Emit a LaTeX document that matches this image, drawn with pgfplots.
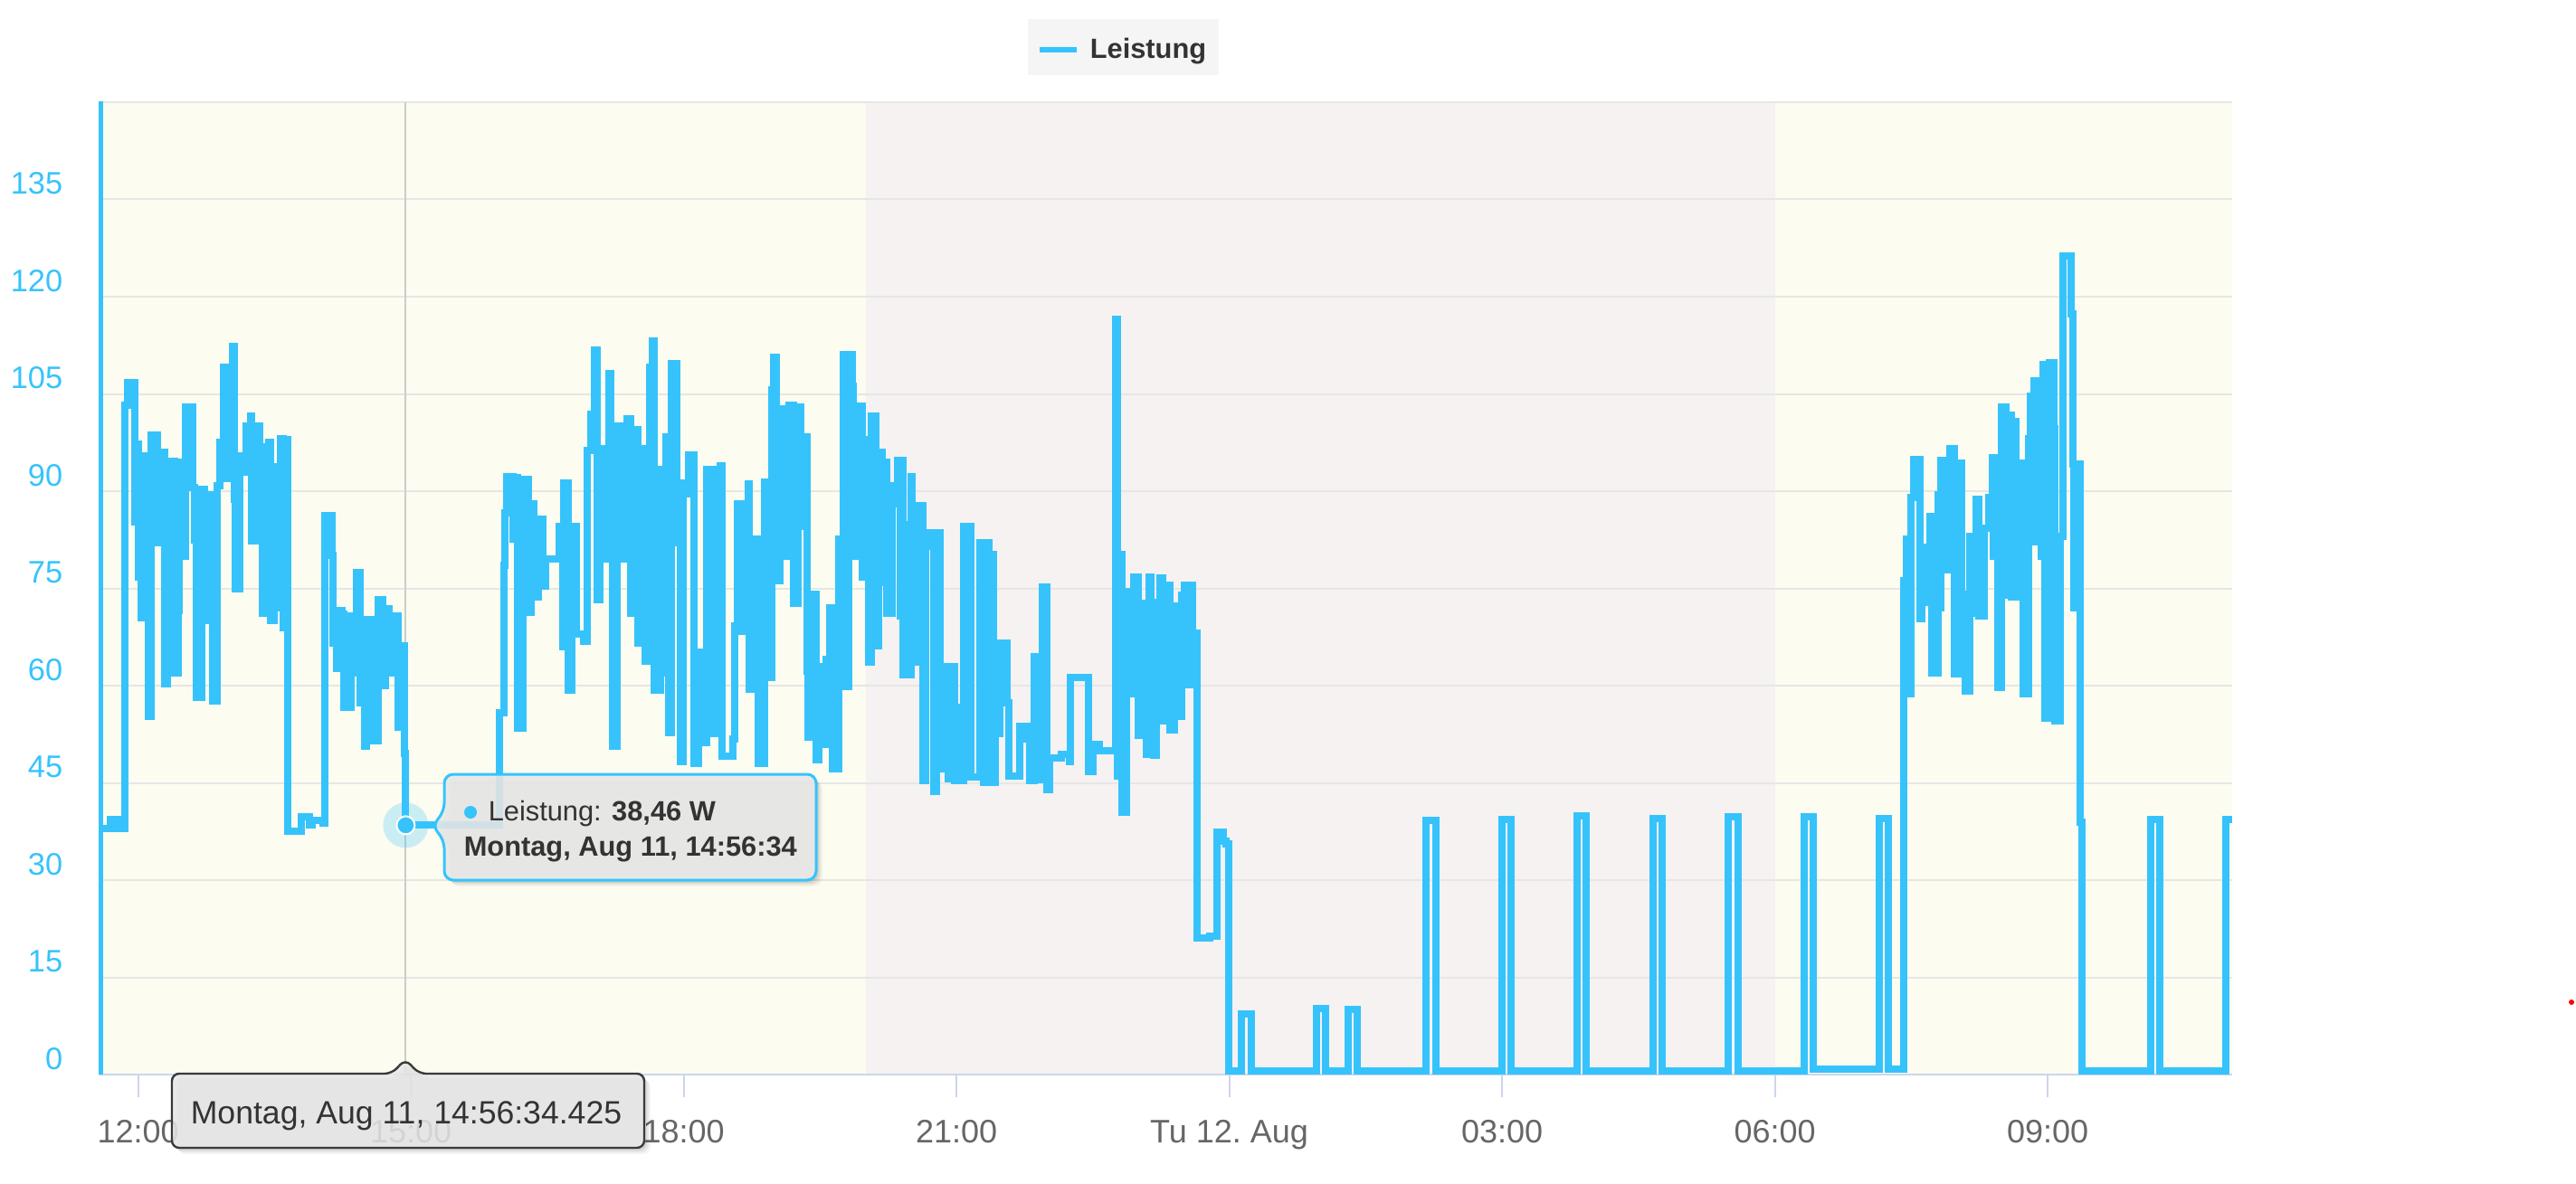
\documentclass[border=0pt]{standalone}
\usepackage{pgfplots}
\pgfplotsset{compat=1.18}
\usepackage{fontspec}
\setmainfont{Liberation Sans}
\definecolor{series}{HTML}{36C3FC}
\definecolor{ylab}{HTML}{36C3FC}
\definecolor{xlab}{HTML}{666666}
\definecolor{dayband}{HTML}{FCFCF0}
\definecolor{nightband}{HTML}{F5F2F1}
\definecolor{gridc}{HTML}{E6E6E6}
\definecolor{axisc}{HTML}{CCD6EB}
\definecolor{txt}{HTML}{333333}
\definecolor{legbg}{HTML}{F5F5F5}
\definecolor{tipfill}{HTML}{E9E9E9}
\definecolor{crossc}{HTML}{CCCCCC}
\definecolor{tipborder2}{HTML}{3A3A3A}

\pgfplotstableread{
h v
11.576 0
11.576 150.5
11.576 38.0
11.692 39.4
11.775 38.0
11.858 103.2
11.882 106.7
11.964 85.2
11.974 97.3
12.007 76.7
12.031 70.5
12.057 95.4
12.106 80.0
12.113 55.2
12.146 98.7
12.213 82.0
12.240 93.0
12.266 96.0
12.290 60.3
12.322 62.0
12.365 94.6
12.399 62.0
12.439 71.6
12.449 94.4
12.489 80.0
12.521 103.0
12.604 90.6
12.621 82.5
12.638 58.2
12.703 90.3
12.730 70.0
12.777 89.5
12.820 57.6
12.870 90.9
12.903 97.5
12.936 109.1
12.976 92.0
12.996 105.0
13.036 112.3
13.062 88.7
13.069 75.0
13.118 95.5
13.151 93.0
13.185 100.0
13.235 101.6
13.251 82.3
13.307 100.0
13.334 86.3
13.350 96.8
13.367 71.2
13.434 97.5
13.460 70.0
13.500 93.8
13.539 72.0
13.566 98.1
13.599 68.9
13.633 98.0
13.649 37.5
13.798 39.7
13.882 38.5
13.914 39.2
14.031 38.8
14.057 86.3
14.130 80.1
14.146 66.5
14.180 62.7
14.196 71.6
14.246 71.0
14.263 56.6
14.345 70.8
14.369 61.9
14.405 77.5
14.439 57.4
14.479 66.0
14.495 50.7
14.511 70.2
14.544 51.5
14.568 70.2
14.611 51.5
14.644 73.2
14.693 60.0
14.720 71.8
14.760 69.2
14.793 62.0
14.843 70.8
14.860 53.6
14.912 66.2
14.932 49.6
14.943 38.46
15.977 55.8
16.021 78.6
16.037 86.6
16.054 92.3
16.120 82.6
16.143 92.1
16.170 53.4
16.236 91.8
16.296 71.3
16.325 88.0
16.352 73.7
16.405 85.7
16.452 75.4
16.485 79.6
16.634 84.6
16.668 66.0
16.684 91.2
16.727 59.3
16.767 84.5
16.817 67.9
16.900 66.8
16.942 96.3
16.982 101.9
17.016 111.8
17.049 73.2
17.076 96.5
17.115 79.6
17.181 108.1
17.201 82.6
17.215 50.7
17.265 100.0
17.314 79.6
17.347 97.6
17.374 101.1
17.414 71.1
17.464 99.5
17.497 66.5
17.546 96.5
17.579 63.8
17.629 109.1
17.656 113.1
17.679 59.3
17.745 93.3
17.778 62.0
17.805 98.4
17.838 52.8
17.862 109.7
17.927 90.1
17.944 82.1
17.961 48.3
17.994 91.2
18.027 89.6
18.054 95.6
18.110 48.0
18.160 65.2
18.193 53.6
18.210 51.2
18.250 93.3
18.325 52.6
18.402 93.9
18.425 49.1
18.541 51.8
18.558 69.2
18.591 88.0
18.641 68.4
18.691 70.3
18.707 91.1
18.723 59.5
18.790 82.6
18.823 48.0
18.890 91.4
18.939 61.2
18.972 105.6
18.989 110.6
19.022 76.2
19.056 102.7
19.089 79.9
19.155 103.3
19.205 72.7
19.255 103.0
19.288 84.5
19.330 98.4
19.354 62.2
19.370 52.0
19.404 74.1
19.454 48.5
19.487 63.0
19.529 51.0
19.553 60.1
19.569 64.1
19.603 72.0
19.636 47.2
19.703 82.6
19.752 111.1
19.785 59.8
19.818 111.1
19.852 106.2
19.868 79.9
19.885 89.7
19.917 103.1
19.967 76.7
20.007 98.0
20.034 63.6
20.061 101.6
20.116 66.2
20.140 96.0
20.183 75.9
20.206 94.5
20.233 71.1
20.293 90.9
20.332 88.0
20.349 94.8
20.382 70.8
20.399 94.8
20.415 61.7
20.439 84.8
20.492 61.7
20.499 92.2
20.514 63.6
20.571 69.7
20.581 87.8
20.631 45.3
20.658 81.5
20.698 83.6
20.747 43.7
20.780 83.6
20.823 47.2
20.880 63.0
20.912 45.6
20.946 63.0
20.979 45.3
21.012 56.6
21.062 45.3
21.079 84.5
21.161 45.9
21.261 82.1
21.294 45.1
21.327 82.1
21.360 80.2
21.410 45.1
21.427 52.6
21.477 66.5
21.559 57.4
21.576 46.1
21.693 53.7
21.775 51.8
21.808 45.3
21.858 64.5
21.907 45.5
21.941 75.2
21.991 44.0
22.024 48.8
22.156 49.4
22.240 48.3
22.256 61.2
22.455 46.7
22.505 50.9
22.571 49.9
22.750 116.5
22.770 46.0
22.790 80.2
22.820 40.4
22.870 74.5
22.900 58.7
22.949 76.7
22.999 52.3
23.049 72.7
23.090 49.4
23.118 76.8
23.135 52.0
23.168 49.2
23.201 72.8
23.235 76.6
23.268 54.5
23.324 75.5
23.350 53.2
23.400 70.1
23.424 72.3
23.450 55.3
23.477 73.9
23.509 75.5
23.549 60.1
23.583 75.5
23.599 68.1
23.649 21.1
23.782 21.4
23.865 37.4
23.931 36.0
23.964 35.6
23.997 0.5
24.130 9.4
24.246 0.5
24.959 10.2
25.059 0.5
25.307 10.1
25.407 0.5
26.163 39.2
26.270 0.5
26.999 39.4
27.099 0.5
27.825 39.9
27.924 0.5
28.661 39.5
28.760 0.5
29.487 39.7
29.596 0.5
30.322 39.7
30.422 0.9
31.151 39.5
31.251 0.8
31.417 76.2
31.444 82.6
31.470 58.8
31.494 89.0
31.526 94.9
31.593 70.3
31.616 81.3
31.643 79.6
31.676 72.8
31.708 86.1
31.725 62.0
31.792 89.4
31.808 72.0
31.825 94.7
31.875 77.9
31.924 96.6
31.974 61.8
32.017 88.1
32.041 94.3
32.057 74.1
32.090 59.2
32.140 83.0
32.190 71.1
32.213 88.8
32.240 70.7
32.305 84.3
32.355 89.0
32.389 95.1
32.405 80.0
32.439 95.1
32.455 59.7
32.492 103.0
32.538 74.0
32.571 101.7
32.604 73.7
32.621 100.8
32.654 85.1
32.671 73.7
32.703 94.3
32.730 58.8
32.787 98.1
32.810 104.7
32.820 82.2
32.853 107.0
32.929 80.0
32.952 109.6
32.969 55.0
33.019 109.8
33.069 99.6
33.079 54.6
33.135 83.0
33.168 126.3
33.261 117.4
33.278 94.2
33.291 72.0
33.317 94.2
33.357 38.9
33.377 0.5
34.130 39.3
34.230 0.5
34.959 39.3
35.029 39.3
}\leistung

\begin{document}
\begin{tikzpicture}
\begin{axis}[
  set layers,
  at={(27.25pt,30pt)}, anchor=south west,
  width=589.5pt, height=268.75pt, scale only axis,
  xmin=11.566, xmax=35.029, ymin=0, ymax=150,
  axis x line*=bottom, axis y line*=left,
  x axis line style={draw=axisc, line width=0.5pt, -},
  y axis line style={draw=none, -},
  xtick={12,15,...,33},
  xticklabels={12:00,15:00,18:00,21:00,{Tu 12.\ Aug},03:00,06:00,09:00},
  ytick={0,15,...,135},
  extra y ticks={150}, extra y tick labels={},
  extra y tick style={grid=major},
  ymajorgrids,
  major grid style={draw=gridc, line width=0.5pt},
  tick align=outside,
  major tick length=6.25pt,
  xtick style={draw=axisc, line width=0.5pt},
  ytick style={draw=none},
  x tick label style={font=\fontsize{9}{10}\selectfont, text=xlab, anchor=base, inner sep=0pt, yshift=-12.5pt},
  y tick label style={font=\fontsize{8.6}{10}\selectfont, text=ylab, anchor=base east, inner sep=0pt, xshift=-3.5pt, yshift=1.4pt},
  /pgf/number format/assume math mode=true,
]
\begin{pgfonlayer}{axis background}
\fill[dayband] (axis cs:11.566,0) rectangle (axis cs:20,150);
\fill[nightband] (axis cs:20,0) rectangle (axis cs:30,150);
\fill[dayband] (axis cs:30,0) rectangle (axis cs:35.029,150);
\end{pgfonlayer}
\draw[crossc, line width=0.5pt] (axis cs:14.943,0) -- (axis cs:14.943,150);
\addplot[const plot, series, line width=2pt] table[x=h, y=v] {\leistung};
\addplot[only marks, forget plot, color=series, mark=*, mark size=6.25pt, mark options={solid, draw opacity=0, fill=series, fill opacity=0.25}] coordinates {(14.943,38.46)};
\addplot[only marks, forget plot, color=white, mark=*, mark size=2.5pt, mark options={solid, draw=white, line width=0.5pt, fill=series}] coordinates {(14.943,38.46)};
\end{axis}

\begin{scope}[x=0.25pt, y=-0.25pt, yshift=327pt]
% legend
\fill[legbg] (1136,21) rectangle (1347,83);
\draw[series, line width=1.5pt] (1149,55) -- (1190,55);
\node[anchor=base west, inner sep=0pt, font=\bfseries\fontsize{7.7}{9}\selectfont, text=txt] at (1204,65) {Leistung};
% tooltip 1 (point)
\foreach \o/\op in {7/0.04, 5/0.06, 3/0.08} {
  \fill[black, opacity=\op, rounded corners=2.5pt, shift={(\o,\o)}] (491,898) -- (491,856) -- (902,856) -- (902,973) -- (491,973) -- (491,928) -- (477,913) -- cycle;
}
\filldraw[draw=series, fill=tipfill, fill opacity=0.88, line width=0.75pt, rounded corners=2.5pt] (491,898) -- (491,856) -- (902,856) -- (902,973) -- (491,973) -- (491,928) -- (477,913) -- cycle;
\fill[series] (520,898) circle (1.75pt);
\node[anchor=base west, inner sep=0pt, font=\fontsize{7.7}{9}\selectfont, text=txt] at (539,907) {Leistung: \textbf{38,46 W}};
\node[anchor=base west, inner sep=0pt, font=\bfseries\fontsize{7.7}{9}\selectfont, text=txt] at (512,946) {Montag, Aug 11, 14:56:34};
% tooltip 2 (crosshair label)
\foreach \o/\op in {7/0.04, 5/0.06, 3/0.08} {
  \fill[black, opacity=\op, rounded corners=2pt, shift={(\o,\o)}] (433,1187) -- (448,1171) -- (463,1187) -- (712,1187) -- (712,1269) -- (190,1269) -- (190,1187) -- cycle;
}
\filldraw[draw=tipborder2, fill=tipfill, fill opacity=0.86, line width=0.6pt, rounded corners=2pt] (433,1187) -- (448,1171) -- (463,1187) -- (712,1187) -- (712,1269) -- (190,1269) -- (190,1187) -- cycle;
\node[anchor=base, inner sep=0pt, font=\fontsize{8.9}{10}\selectfont, text=txt] at (449,1242) {Montag, Aug 11, 14:56:34.425};
% stray red dot
\fill[red] (2842,1108) circle (0.75pt);
\end{scope}
\pgfresetboundingbox
\path[use as bounding box] (0,0) rectangle (711.75pt,327pt);
\end{tikzpicture}
\end{document}
